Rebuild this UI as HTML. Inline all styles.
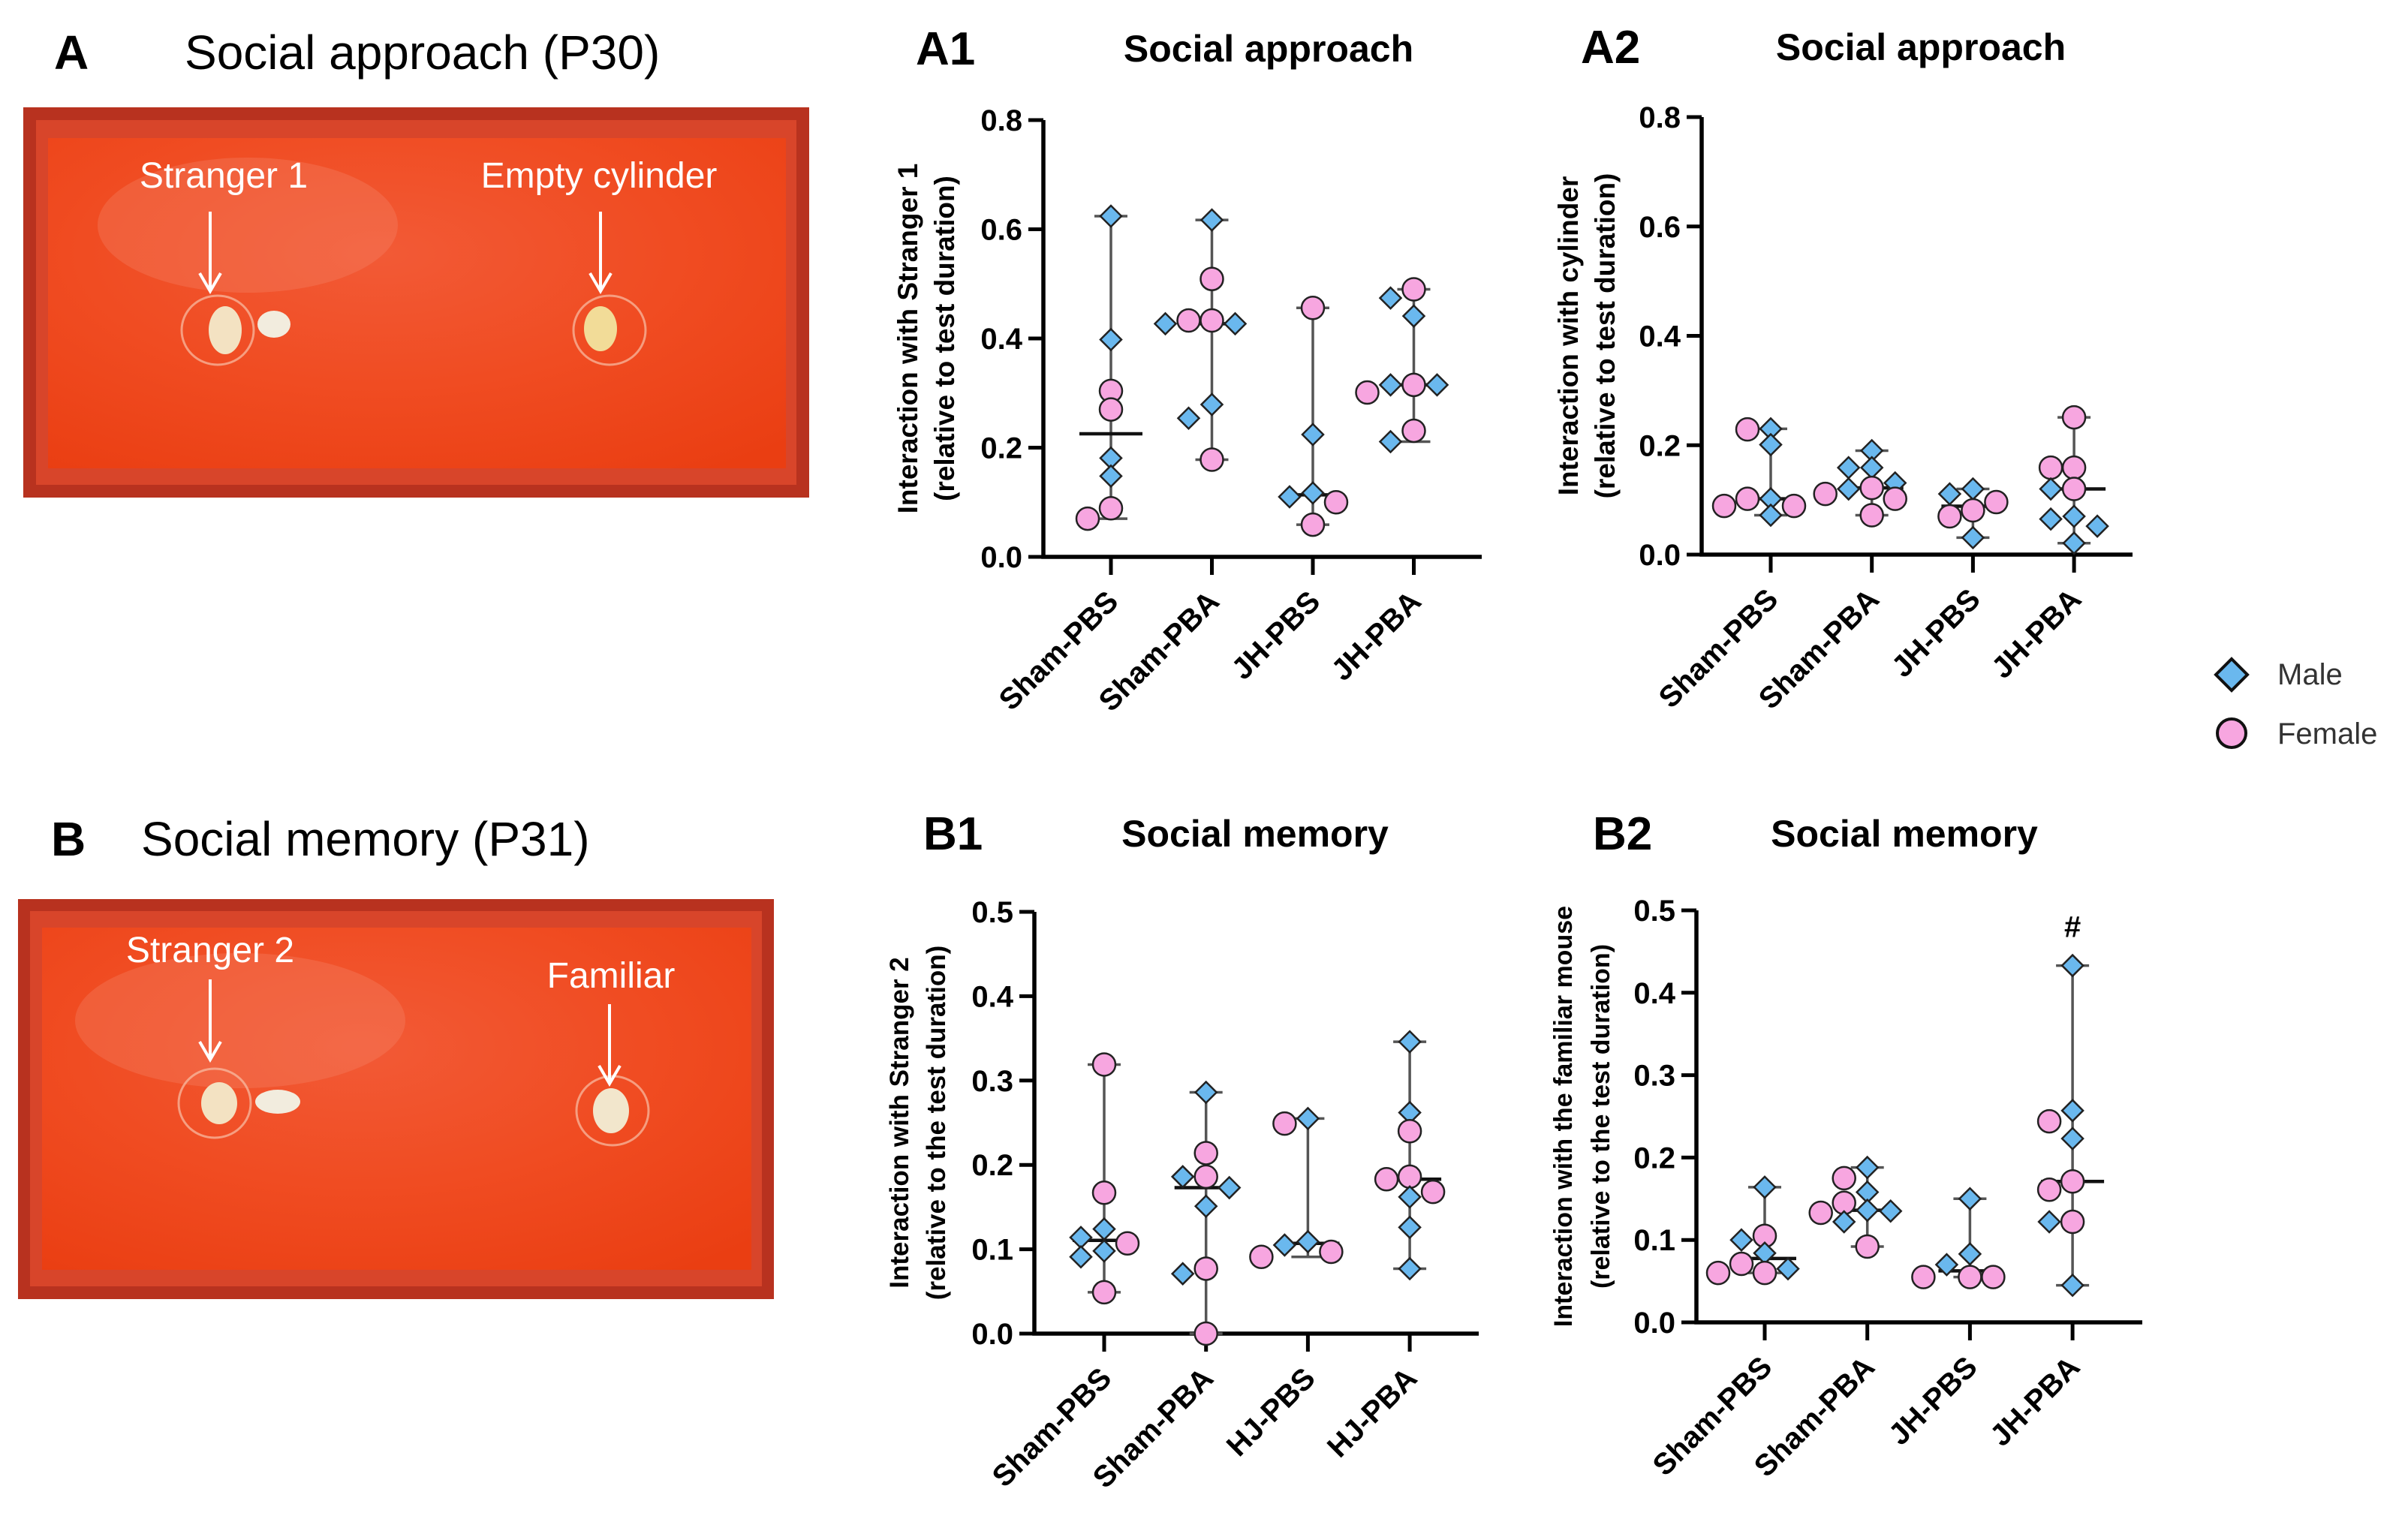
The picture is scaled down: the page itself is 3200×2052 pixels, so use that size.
<!DOCTYPE html>
<html><head><meta charset="utf-8"><style>
html,body{margin:0;padding:0;background:#fff;}
svg{display:block;font-family:"Liberation Sans",Arial,sans-serif;}
</style></head><body>
<svg id="fig" width="3200" height="2052" viewBox="0 0 3200 2052" xmlns="http://www.w3.org/2000/svg">
<defs>
<radialGradient id="floorA" cx="0.45" cy="0.35" r="0.8">
<stop offset="0" stop-color="#f25a36"/><stop offset="0.5" stop-color="#f04c22"/><stop offset="1" stop-color="#ea3e12"/></radialGradient>
</defs>
<g>
<text x="72" y="92" font-size="64" font-weight="bold">A</text>
<text x="246" y="92" font-size="64">Social approach (P30)</text>
<g>
<rect x="31" y="143" width="1047" height="520" fill="#b8321f"/>
<rect x="48" y="160" width="1013" height="486" fill="#d8452a"/>
<rect x="64" y="184" width="983" height="440" fill="url(#floorA)"/>
<ellipse cx="330" cy="300" rx="200" ry="90" fill="#f58a70" opacity="0.3"/>
<ellipse cx="290" cy="440" rx="48" ry="46" fill="none" stroke="#f8c0a8" stroke-width="3" opacity="0.7"/>
<ellipse cx="300" cy="440" rx="22" ry="32" fill="#f3e2c2"/>
<ellipse cx="365" cy="432" rx="22" ry="18" fill="#f2ecde"/>
<ellipse cx="812" cy="440" rx="48" ry="46" fill="none" stroke="#f8c0a8" stroke-width="3" opacity="0.7"/>
<ellipse cx="800" cy="438" rx="22" ry="30" fill="#f2dc98"/>
<text x="298" y="250" font-size="48" fill="#fff" text-anchor="middle">Stranger 1</text>
<text x="798" y="250" font-size="48" fill="#fff" text-anchor="middle">Empty cylinder</text>
<path d="M280 282 V386 M266 364 L280 388 L294 364" stroke="#fff" stroke-width="4" fill="none"/>
<path d="M800 282 V386 M786 364 L800 388 L814 364" stroke="#fff" stroke-width="4" fill="none"/>
</g>
</g>
<g>
<text x="68" y="1140" font-size="64" font-weight="bold">B</text>
<text x="188" y="1140" font-size="64">Social memory (P31)</text>
<g>
<rect x="24" y="1198" width="1007" height="533" fill="#b8321f"/>
<rect x="40" y="1214" width="975" height="500" fill="#d8452a"/>
<rect x="56" y="1236" width="945" height="456" fill="url(#floorA)"/>
<ellipse cx="320" cy="1360" rx="220" ry="90" fill="#f58a70" opacity="0.3"/>
<ellipse cx="286" cy="1470" rx="48" ry="46" fill="none" stroke="#f8c0a8" stroke-width="3" opacity="0.7"/>
<ellipse cx="292" cy="1470" rx="24" ry="28" fill="#f3e2c2"/>
<ellipse cx="370" cy="1468" rx="30" ry="16" fill="#f2ecde"/>
<ellipse cx="816" cy="1480" rx="48" ry="46" fill="none" stroke="#f8c0a8" stroke-width="3" opacity="0.7"/>
<ellipse cx="814" cy="1480" rx="24" ry="30" fill="#f2e6cc"/>
<text x="280" y="1282" font-size="48" fill="#fff" text-anchor="middle">Stranger 2</text>
<text x="814" y="1316" font-size="48" fill="#fff" text-anchor="middle">Familiar</text>
<path d="M280 1305 V1410 M266 1388 L280 1412 L294 1388" stroke="#fff" stroke-width="4" fill="none"/>
<path d="M812 1338 V1442 M798 1420 L812 1444 L826 1420" stroke="#fff" stroke-width="4" fill="none"/>
</g>
</g>
<g>
<g>
<path d="M2973 878 L2994 899 L2973 920 L2952 899 Z" fill="#6ab8ee" stroke="#111" stroke-width="4"/>
<text x="3034" y="912" font-size="40" fill="#333">Male</text>
</g>
<g>
<circle cx="2973" cy="977" r="19" fill="#f7a6e0" stroke="#111" stroke-width="4"/>
<text x="3034" y="991" font-size="40" fill="#333">Female</text>
</g>
</g>
<g id="charts"></g>
</svg>
<script>
const catsA = ["Sham-PBS","Sham-PBA","JH-PBS","JH-PBA"];
const catsB1 = ["Sham-PBS","Sham-PBA","HJ-PBS","HJ-PBA"];
const catsB2 = ["Sham-PBS","Sham-PBA","JH-PBS","JH-PBA"];

const a1Vals = [
 [0.624,0.398,0.181,0.148,0.304,0.27,0.07,0.089],
 [0.617,0.509,0.433,0.433,0.427,0.427,0.279,0.254,0.178],
 [0.456,0.224,0.117,0.11,0.1,0.059],
 [0.49,0.474,0.441,0.315,0.315,0.315,0.301,0.231,0.211]];
const a1Sex = [
 ["M","M","M","M","F","F","F","F"],
 ["M","F","F","F","M","M","M","M","F"],
 ["F","M","M","M","F","F"],
 ["F","M","M","F","M","M","F","F","M"]];

const a2Vals = [
 [0.229,0.23,0.201,0.102,0.089,0.102,0.089,0.072],
 [0.19,0.159,0.159,0.131,0.122,0.12,0.111,0.102,0.072],
 [0.12,0.111,0.096,0.081,0.07,0.031],
 [0.251,0.159,0.159,0.12,0.12,0.07,0.065,0.052,0.021]];
const a2Sex = [
 ["F","M","M","M","F","F","F","M"],
 ["M","M","M","M","F","M","F","F","F"],
 ["M","M","F","F","F","M"],
 ["F","F","F","F","M","M","M","M","M"]];

const b1Vals = [
 [0.319,0.167,0.124,0.114,0.107,0.098,0.091,0.049],
 [0.286,0.214,0.186,0.186,0.173,0.151,0.077,0.071,0.0],
 [0.255,0.249,0.109,0.105,0.097,0.091],
 [0.346,0.262,0.24,0.186,0.183,0.168,0.162,0.126,0.077]];
const b1Sex = [
 ["F","F","M","M","F","M","M","F"],
 ["M","F","F","M","M","M","F","M","F"],
 ["M","F","M","M","F","F"],
 ["M","M","F","F","F","F","M","M","M"]];

const b2Vals = [
 [0.164,0.105,0.1,0.084,0.071,0.065,0.06,0.06],
 [0.188,0.175,0.158,0.145,0.136,0.135,0.133,0.122,0.092],
 [0.15,0.083,0.07,0.055,0.055,0.055],
 [0.433,0.257,0.244,0.223,0.171,0.161,0.122,0.122,0.045]];
const b2Sex = [
 ["M","F","M","M","F","M","F","F"],
 ["M","F","M","F","M","M","F","M","F"],
 ["M","M","M","F","F","F"],
 ["M","M","F","M","F","F","F","M","M"]];

const a1Ticks = [0,0.2,0.4,0.6,0.8], a1TickLabels = ["0.0","0.2","0.4","0.6","0.8"];
const b1Ticks = [0,0.1,0.2,0.3,0.4,0.5], b1TickLabels = ["0.0","0.1","0.2","0.3","0.4","0.5"];

const NS = "http://www.w3.org/2000/svg";
const root = document.getElementById("charts");
function mk(tag, attrs, parent){ const e=document.createElementNS(NS,tag); for(const k in attrs) e.setAttribute(k,attrs[k]); (parent||root).appendChild(e); return e; }
function median(a){ const s=[...a].sort((x,y)=>x-y); const n=s.length; return n%2?s[(n-1)/2]:(s[n/2-1]+s[n/2])/2; }

function chart(cfg){
  const g = mk("g",{});
  
  
  const yMax = cfg.ticks[cfg.ticks.length-1];
  const ys = v => cfg.y0 - (v / yMax) * (cfg.y0 - cfg.yTop);
  const xs = i => cfg.x0 + cfg.catStart + i * cfg.catStep;
  const pl = mk("text",{x:cfg.labelX,y:cfg.titleY,"font-size":62,"font-weight":"bold"},g); pl.textContent=cfg.label;
  
  
  const tt = mk("text",{x:cfg.titleX,y:cfg.titleY-4,"font-size":50,"font-weight":"bold","text-anchor":"middle"},g); tt.textContent=cfg.title;
  
  
  cfg.yTitle.forEach((line,k)=>{
    const cx = cfg.yTitleX[k], cy = (cfg.y0+cfg.yTop)/2;
    const t = mk("text",{x:cx,y:cy,"font-size":cfg.yTitleSize||37,"font-weight":"bold","text-anchor":"middle",transform:`rotate(-90 ${cx} ${cy})`},g);
    t.textContent=line;
    
    
  });
  const ax = mk("path",{d:`M${cfg.x0} ${cfg.yTop} V${cfg.y0} H${cfg.xEnd}`,stroke:"#000","stroke-width":5.5,fill:"none"},g);
  
  
  cfg.ticks.forEach((v,k)=>{
    const y=ys(v);
    const tk = mk("line",{x1:cfg.x0-20,x2:cfg.x0,y1:y,y2:y,stroke:"#000","stroke-width":5},g);
    
    
    const tl = mk("text",{x:cfg.x0-28,y:y+14,"font-size":40,"font-weight":"bold","text-anchor":"end"},g);
    tl.textContent=cfg.tickLabels[k];
    
    
  });
  cfg.cats.forEach((c,i)=>{
    const x=xs(i);
    const tk = mk("line",{x1:x,x2:x,y1:cfg.y0,y2:cfg.y0+24,stroke:"#000","stroke-width":5},g);
    
    
    const lx=x+12, ly=cfg.y0+62;
    const tl = mk("text",{x:lx,y:ly,"font-size":40,"font-weight":"bold","text-anchor":"end",transform:`rotate(-45 ${lx} ${ly})`},g);
    tl.textContent=c;
    
    
  });
  cfg.vals.forEach((vals,i)=>{
    const x=xs(i);
    const gg = mk("g",{},g);
    
    
    const mn=Math.min(...vals), mx=Math.max(...vals), md=median(vals);
    const er = mk("path",{d:`M${x} ${ys(mx)} V${ys(mn)} M${x-22} ${ys(mx)} H${x+22} M${x-22} ${ys(mn)} H${x+22}`,stroke:"#555","stroke-width":3.5,fill:"none"},gg);
    
    
    const ml = mk("line",{x1:x-42,x2:x+42,y1:ys(md),y2:ys(md),stroke:"#111","stroke-width":4.5},gg);
    
    
    const placed=[];
    const order = vals.map((v,k)=>k).sort((a,b)=>vals[b]-vals[a]);
    order.forEach(k=>{
      const y=ys(vals[k]);
      let px=x;
      for(const o of [0,-1,1,-2,2,-3,3]){
        const cx=x+o*31;
        if(placed.every(p=>Math.hypot(p[0]-cx,p[1]-y)>=21)){ px=cx; break; }
      }
      placed.push([px,y]);
      if(cfg.sex[i][k]==="M"){
        const d = mk("path",{d:`M${px} ${y-14} L${px+14} ${y} L${px} ${y+14} L${px-14} ${y} Z`,fill:"#6ab8ee",stroke:"#222","stroke-width":2.5},gg);
        
        
      } else {
        const c = mk("circle",{cx:px,cy:y,r:15,fill:"#f7a6e0",stroke:"#222","stroke-width":2.5},gg);
        
        
      }
    });
  });
  if(cfg.hash){
    const i=cfg.hash, v=Math.max(...cfg.vals[i]);
    const h = mk("text",{x:xs(i),y:ys(v)-38,"font-size":40,"font-weight":"bold","text-anchor":"middle"},g);
    h.textContent="#";
    
    
  }
}

chart({name:"chart-a1",label:"A1",labelX:1220,titleX:1690,titleY:86,title:"Social approach",
  x0:1390,y0:742,yTop:160,xEnd:1974,catStart:90,catStep:134.5,ticks:a1Ticks,tickLabels:a1TickLabels,
  cats:catsA,vals:a1Vals,sex:a1Sex,yTitle:["Interaction with Stranger 1","(relative to test duration)"],yTitleX:[1222,1271]});
chart({name:"chart-a2",label:"A2",labelX:2106,titleX:2559,titleY:84,title:"Social approach",
  x0:2267,y0:739,yTop:156,xEnd:2841,catStart:92,catStep:134.7,ticks:a1Ticks,tickLabels:a1TickLabels,
  cats:catsA,vals:a2Vals,sex:a2Sex,yTitle:["Interaction with cylinder","(relative to test duration)"],yTitleX:[2102,2151]});
chart({name:"chart-b1",label:"B1",labelX:1230,titleX:1672,titleY:1132,title:"Social memory",
  x0:1378,y0:1777,yTop:1215,xEnd:1970,catStart:93,catStep:135.7,ticks:b1Ticks,tickLabels:b1TickLabels,
  cats:catsB1,vals:b1Vals,sex:b1Sex,yTitle:["Interaction with Stranger 2","(relative to the test duration)"],yTitleX:[1210,1259],yTitleSize:35});
chart({name:"chart-b2",label:"B2",labelX:2122,titleX:2537,titleY:1132,title:"Social memory",
  x0:2260,y0:1762,yTop:1213,xEnd:2854,catStart:91,catStep:136.7,ticks:b1Ticks,tickLabels:b1TickLabels,
  cats:catsB2,vals:b2Vals,sex:b2Sex,yTitle:["Interaction with the familiar mouse","(relative to the test duration)"],yTitleX:[2094,2144],yTitleSize:34,hash:3});
</script>
</body></html>
